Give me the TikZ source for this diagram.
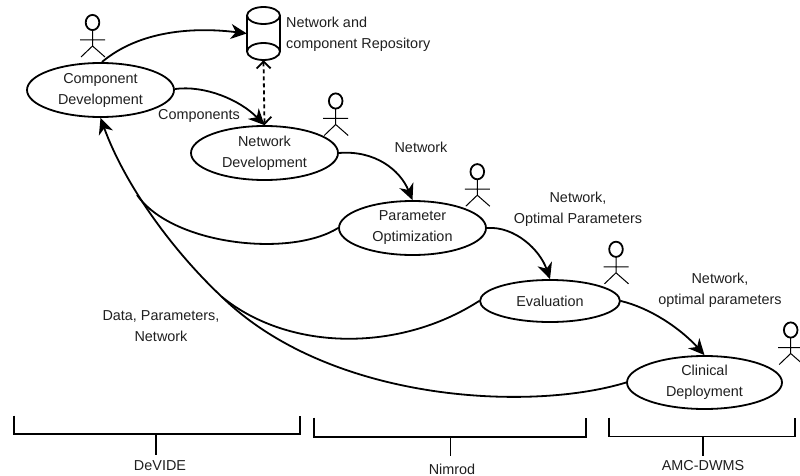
\documentclass[tikz,border=0pt]{standalone}
\usepackage{fontspec}
\setmainfont{Liberation Sans}
\usetikzlibrary{arrows.meta,shapes.geometric}
\tikzset{
  txt/.style={font=\fontsize{14.4}{21}\selectfont,align=center,inner sep=0pt,text=black!88},
  usecase/.style={ellipse,draw,line width=1.8pt,fill=white,minimum width=147pt,minimum height=54pt,inner sep=0pt,txt},
  flow/.style={line width=1.8pt,-{Stealth[length=16pt,width=15pt,inset=5pt]}},
  merge/.style={line width=1.8pt},
  link/.style={line width=1.8pt,dash pattern=on 4pt off 3pt,{Straight Barb[length=7pt,width=14pt,line width=1.8pt]}-{Straight Barb[length=7pt,width=14pt,line width=1.8pt]}},
  brace/.style={line width=1.6pt},
  actor/.pic={
    \draw[line width=1.8pt] (0,0) ellipse (6.8pt and 7.6pt);
    \draw[line width=1pt] (0,7.6) -- (0,23.5) (-12.5,17.5) -- (12.5,17.5) (-11.5,34.5) -- (0,23.5) -- (12.5,34.5);
  }
}
\begin{document}
\begin{tikzpicture}[x=1pt,y=-1pt]
\useasboundingbox (0,0) rectangle (800,476);
% use cases
\node[usecase] (comp) at (100.5,90) {Component\\Development};
\node[usecase] (net) at (264.5,153) {Network\\Development};
\node[usecase] (param) at (412.5,228) {Parameter\\Optimization};
\node[usecase,minimum width=140pt,minimum height=42pt] (eval) at (550,301) {Evaluation};
\node[usecase,minimum width=155pt,minimum height=53pt] (clin) at (704.5,382.5) {Clinical\\Deployment};
% repository
\node[minimum width=33pt,minimum height=53pt,inner sep=0pt] (repo) at (263.5,33.5) {};
\path (repo.north west) ++(0,8.5) coordinate (tl) (repo.north east) ++(0,8.5) coordinate (tr)
  (repo.south west) ++(0,-8.5) coordinate (bl) (repo.south east) ++(0,-8.5) coordinate (br);
\draw[line width=1.8pt] (tl) -- (bl) (tr) -- (br);
\draw[line width=1.8pt] (263.5,15.5) ellipse (16.5pt and 8.5pt);
\draw[line width=1.8pt] (263.5,51.5) ellipse (16.5pt and 8.5pt);
% actors
\pic at (92.5,22.5) {actor};
\pic at (335.7,101) {actor};
\pic at (477.3,171.7) {actor};
\pic at (616,249.3) {actor};
\pic at (790.7,330) {actor};
% waypoints where the return flows join
\coordinate (joinA) at (137,195);
\coordinate (joinB) at (222,297);
% forward connectors
\draw[flow] (102,62) .. controls (140,30) and (195,27) .. (repo.west);
\draw[flow] (comp.east |- 0,89) .. controls (205,85) and (240,100) .. (net.north);
\draw[flow] (net.east) .. controls (375,150) and (400,170) .. (param.north);
\draw[flow] (param.east) .. controls (515,226) and (540,250) .. (eval.north);
\draw[flow] (eval.east) .. controls (650,308) and (680,328) .. (clin.north);
\draw[link] (repo.south) -- (net.north);
% return connectors
\draw[flow] (clin.west) .. controls (530,412) and (330,402) .. (joinB) .. controls (172,250) and (125,185) .. (comp.south);
\draw[merge] (eval.west) .. controls (400,352) and (290,352) .. (joinB);
\draw[merge] (param.west) .. controls (290,258) and (172,245) .. (joinA);
% labels
\node[txt,align=left,anchor=west] (lrepo) at (286,34.5) {Network and\\component Repository};
\node[txt] (lcomp) at (199,116) {Components};
\node[txt] (lnet) at (421,147) {Network};
\node[txt] (lopt) at (578,209) {Network,\\Optimal Parameters};
\node[txt] (lopt2) at (720,290) {Network,\\optimal parameters};
\node[txt] (ldata) at (161,326.5) {Data, Parameters,\\Network};
% tool labels and brackets
\node[txt] (devide) at (160,466) {DeVIDE};
\node[txt] (nimrod) at (452,469) {Nimrod};
\node[txt] (amc) at (703,466) {AMC-DWMS};
\draw[brace] (14,415.7) -- (14,433.7) -- (300,433.7) -- (300,415.7);
\draw[brace] (156,433.7) -- (156,455);
\draw[brace] (314,417.7) -- (314,437) -- (586,437) -- (586,417.7);
\draw[brace] (450.5,437) -- (450.5,456);
\draw[brace] (608.7,417.5) -- (608.7,436.3) -- (795,436.3) -- (795,417.5);
\draw[brace] (703,436.3) -- (703,456);
\end{tikzpicture}
\end{document}
